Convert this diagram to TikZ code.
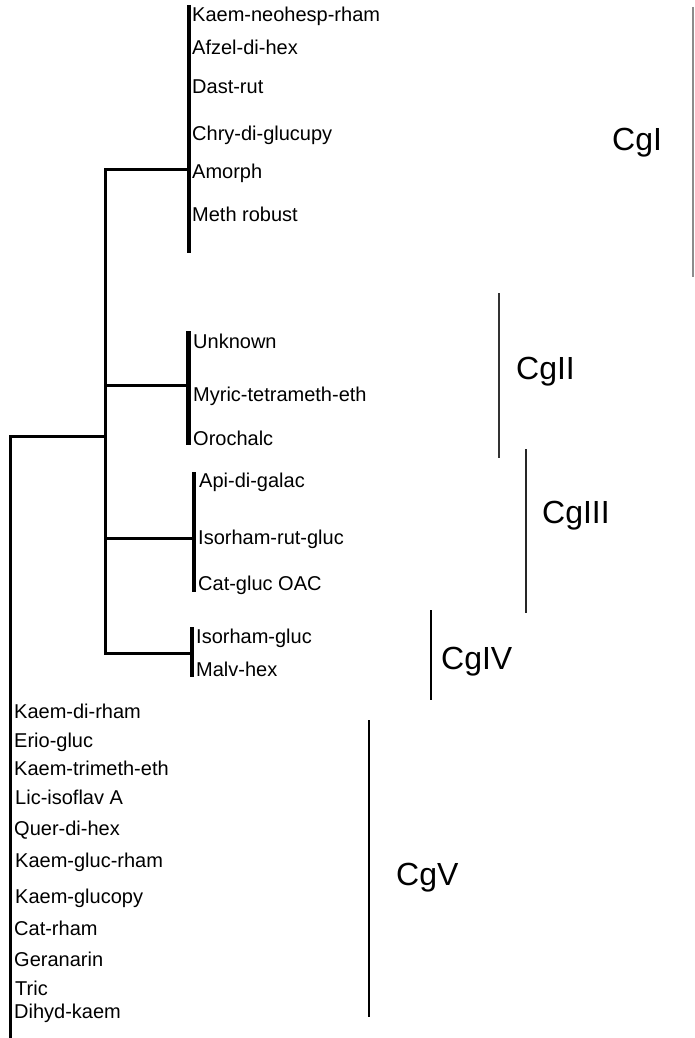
\documentclass[tikz,border=0pt]{standalone}
\usepackage{fontspec}
\setmainfont{Liberation Sans}
\begin{document}
\begin{tikzpicture}[x=1pt,y=-1pt,
  lbl/.style={anchor=base west, inner sep=0pt, font=\fontsize{20}{24}\selectfont},
  grp/.style={anchor=base west, inner sep=0pt, font=\fontsize{32}{38}\selectfont},
  branch/.style={line width=3pt},
  bar/.style={line width=4.2pt},
  cladeline/.style={line width=1.6pt}]
\useasboundingbox (0,0) rectangle (694,1038);
% junction coordinates
\coordinate (root) at (10.5,436);
\coordinate (rootend) at (10.5,1038);
\coordinate (n1) at (105.5,436);
\coordinate (ntop) at (105.5,169);
\coordinate (nbot) at (105.5,653);
\coordinate (n2) at (105.5,385);
\coordinate (n3) at (105.5,538);
% clade bars
\coordinate (b1t) at (189,5);   \coordinate (b1b) at (189,253); \coordinate (b1m) at (189,169);
\coordinate (b2t) at (188.5,331); \coordinate (b2b) at (188.5,445); \coordinate (b2m) at (188.5,385);
\coordinate (b3t) at (194,472); \coordinate (b3b) at (194,592); \coordinate (b3m) at (194,538);
\coordinate (b4t) at (192,627); \coordinate (b4b) at (192,677); \coordinate (b4m) at (192,653);
% tree
\draw[branch] (rootend) -- (root) -- (n1);
\draw[branch] (b1m) -- (ntop) -- (nbot) -- (b4m);
\draw[branch] (n2) -- (b2m);
\draw[branch] (n3) -- (b3m);
\draw[bar] (b1t) -- (b1b);
\draw[bar] (b2t) -- (b2b);
\draw[bar] (b3t) -- (b3b);
\draw[line width=3.2pt] (b4t) -- (b4b);
% CgI labels
\node[lbl] (l1) at (192,22) {Kaem-neohesp-rham};
\node[lbl] (l2) at (192,55) {Afzel-di-hex};
\node[lbl] (l3) at (192,94) {Dast-rut};
\node[lbl] (l4) at (192,140) {Chry-di-glucupy};
\node[lbl] (l5) at (192,178) {Amorph};
\node[lbl] (l6) at (192,221) {Meth robust};
% CgII labels
\node[lbl] (l7) at (193,348) {Unknown};
\node[lbl] (l8) at (193,401) {Myric-tetrameth-eth};
\node[lbl] (l9) at (193,445) {Orochalc};
% CgIII labels
\node[lbl] (l10) at (199,487) {Api-di-galac};
\node[lbl] (l11) at (198,544) {Isorham-rut-gluc};
\node[lbl] (l12) at (198,590) {Cat-gluc OAC};
% CgIV labels
\node[lbl] (l13) at (196,643) {Isorham-gluc};
\node[lbl] (l14) at (196,676) {Malv-hex};
% CgV labels
\node[lbl] (l15) at (14,718) {Kaem-di-rham};
\node[lbl] (l16) at (14,747) {Erio-gluc};
\node[lbl] (l17) at (14,775) {Kaem-trimeth-eth};
\node[lbl] (l18) at (15,804) {Lic-isoflav A};
\node[lbl] (l19) at (14,835) {Quer-di-hex};
\node[lbl] (l20) at (15,867) {Kaem-gluc-rham};
\node[lbl] (l21) at (15,903) {Kaem-glucopy};
\node[lbl] (l22) at (14,935) {Cat-rham};
\node[lbl] (l23) at (14,966) {Geranarin};
\node[lbl] (l24) at (15,995) {Tric};
\node[lbl] (l25) at (14,1018) {Dihyd-kaem};
% group brackets
\coordinate (g1t) at (693,7);   \coordinate (g1b) at (693,277);
\coordinate (g2t) at (499,293); \coordinate (g2b) at (499,458);
\coordinate (g3t) at (526,449); \coordinate (g3b) at (526,613);
\coordinate (g4t) at (431,610); \coordinate (g4b) at (431,700);
\coordinate (g5t) at (369,720); \coordinate (g5b) at (369,1017);
\draw[cladeline, draw=black!45] (g1t) -- (g1b);
\draw[cladeline, draw=black!80, line width=2pt] (g2t) -- (g2b);
\draw[cladeline, draw=black!85] (g3t) -- (g3b);
\draw[cladeline] (g4t) -- (g4b);
\draw[cladeline] (g5t) -- (g5b);
\node[grp] (c1) at (612,150) {CgI};
\node[grp] (c2) at (516,379) {CgII};
\node[grp] (c3) at (542,523) {CgIII};
\node[grp] (c4) at (441,669) {CgIV};
\node[grp] (c5) at (396,885) {CgV};
\end{tikzpicture}
\end{document}
